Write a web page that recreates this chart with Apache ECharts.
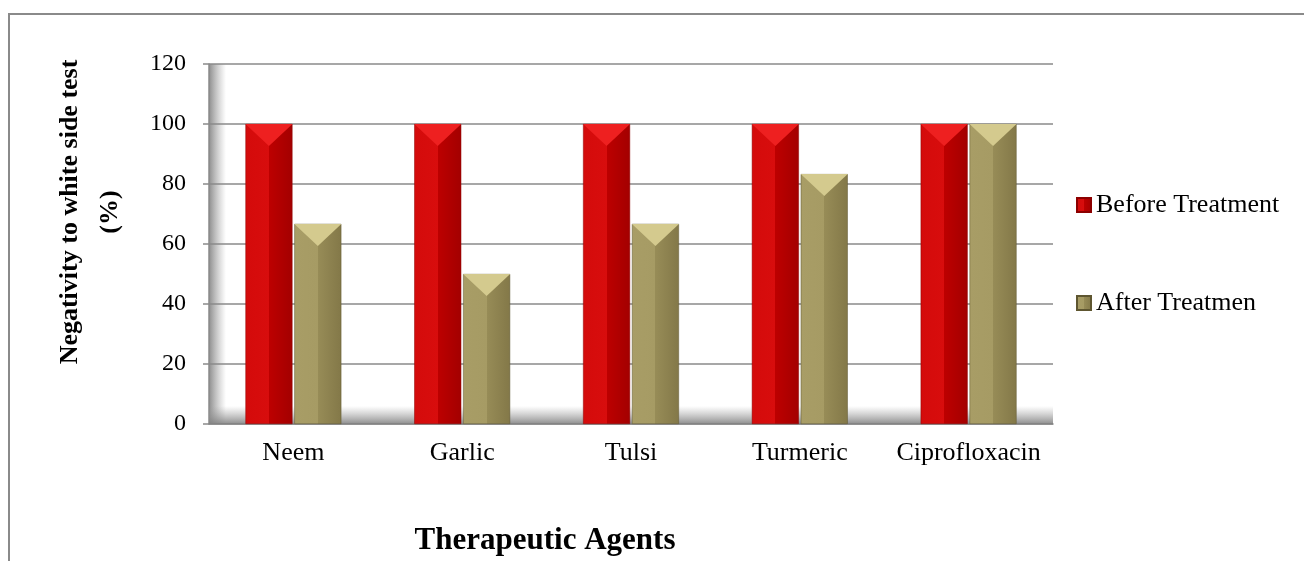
<!DOCTYPE html>
<html>
<head>
<meta charset="utf-8">
<script src="https://cdn.jsdelivr.net/npm/echarts@6/dist/echarts.min.js"></script>
<style>
  html, body { margin: 0; padding: 0; background: #fff; }
  #chart { width: 1304px; height: 561px; }
</style>
</head>
<body>
<div id="chart"></div>
<script>
// 治疗剂
const categories = ['Neem', 'Garlic', 'Tulsi', 'Turmeric', 'Ciprofloxacin'];
// 治疗前 / 治疗后 (%)
const beforeTreatment = [100, 100, 100, 100, 100];
const afterTreatment = [66.7, 50, 66.7, 83.3, 100];
const yTicks = { min: 0, max: 120, interval: 20 };

const serif = '"Liberation Serif", "Times New Roman", serif';
const grid = { left: 209, right: 251, top: 64, bottom: 137 };

// 柱子的立体感用横向渐变模拟
const redFill = new echarts.graphic.LinearGradient(0, 0, 1, 0, [
  { offset: 0, color: '#d40b0b' },
  { offset: 0.5, color: '#d80d0d' },
  { offset: 0.5, color: '#bd0000' },
  { offset: 1, color: '#a30000' }
]);
const oliveFill = new echarts.graphic.LinearGradient(0, 0, 1, 0, [
  { offset: 0, color: '#a89d66' },
  { offset: 0.5, color: '#a69b64' },
  { offset: 0.5, color: '#978c57' },
  { offset: 1, color: '#837848' }
]);

// 柱顶的斜面（V 形高光），用自定义系列按坐标轴换算位置
function bevelSeries(values, seriesIndex, topColor) {
  return {
    type: 'custom',
    silent: true,
    z: 3,
    data: values.map((v, i) => [i, v]),
    renderItem(params, api) {
      const top = api.coord([api.value(0), api.value(1)]);
      const bandW = api.size([1, 0])[0];
      const barW = 47;
      const gap = barW * 0.04;
      const x0 = top[0] - (barW * 2 + gap) / 2 + seriesIndex * (barW + gap);
      const h = 22;
      return {
        type: 'polygon',
        shape: { points: [[x0, top[1]], [x0 + barW, top[1]], [x0 + barW / 2, top[1] + h]] },
        style: { fill: topColor }
      };
    }
  };
}

const chart = echarts.init(document.getElementById('chart'));
chart.setOption({
  backgroundColor: '#fff',
  animation: false,
  grid: grid,
  legend: {
    orient: 'vertical',
    left: 1071,
    top: 187,
    itemWidth: 14,
    itemHeight: 14,
    itemGap: 72,
    icon: 'rect',
    textStyle: { fontFamily: serif, fontSize: 26, color: '#000' },
    data: ['Before Treatment', 'After Treatmen']
  },
  xAxis: {
    type: 'category',
    data: categories,
    axisLine: { lineStyle: { color: '#8a8a8a', width: 1.5 } },
    axisTick: { length: 7, lineStyle: { color: '#8a8a8a', width: 1.5 } },
    axisLabel: { fontFamily: serif, fontSize: 26, color: '#000', margin: 16, interval: 0 }
  },
  yAxis: {
    type: 'value',
    min: yTicks.min,
    max: yTicks.max,
    interval: yTicks.interval,
    axisLine: { show: true, lineStyle: { color: '#8a8a8a', width: 1.5 } },
    axisTick: { show: true, length: 6, lineStyle: { color: '#8a8a8a', width: 1.5 } },
    axisLabel: { fontFamily: serif, fontSize: 24, color: '#000', margin: 23 },
    splitLine: { lineStyle: { color: '#8a8a8a', width: 1.5 } }
  },
  series: [
    {
      name: 'Before Treatment',
      type: 'bar',
      data: beforeTreatment,
      barWidth: 47,
      barGap: '4%',
      itemStyle: { color: redFill, borderColor: '#8c0000', borderWidth: 0.5 },
      // 底部阴影
      markArea: {
        silent: true,
        itemStyle: {
          color: new echarts.graphic.LinearGradient(0, 0, 0, 1, [
            { offset: 0, color: 'rgba(160,160,160,0)' },
            { offset: 1, color: 'rgba(130,130,130,0.9)' }
          ])
        },
        data: [[{ yAxis: 0 }, { yAxis: 6 }]]
      }
    },
    {
      name: 'After Treatmen',
      type: 'bar',
      data: afterTreatment,
      barWidth: 47,
      itemStyle: { color: oliveFill, borderColor: '#5e5630', borderWidth: 0.5 }
    },
    bevelSeries(beforeTreatment, 0, '#ee2020'),
    bevelSeries(afterTreatment, 1, '#d4ca8e')
  ],
  graphic: [
    {
      type: 'rect',
      silent: true,
      shape: { x: 9, y: 14, width: 1400, height: 600 },
      style: { fill: 'none', stroke: '#8a8a8a', lineWidth: 2 }
    },
    {
      // 左侧墙面阴影
      type: 'rect',
      silent: true,
      z: -1,
      shape: { x: grid.left, y: grid.top, width: 17, height: 561 - grid.top - grid.bottom },
      style: {
        fill: new echarts.graphic.LinearGradient(0, 0, 1, 0, [
          { offset: 0, color: 'rgba(130,130,130,0.9)' },
          { offset: 1, color: 'rgba(160,160,160,0)' }
        ])
      }
    },
    {
      type: 'text',
      x: 90,
      y: 212,
      rotation: Math.PI / 2,
      style: {
        text: 'Negativity to white side test\n(%)',
        font: 'bold 26px ' + serif,
        lineHeight: 40,
        align: 'center',
        verticalAlign: 'middle',
        fill: '#000'
      }
    },
    {
      type: 'text',
      x: 545,
      y: 541,
      style: {
        text: 'Therapeutic Agents',
        font: 'bold 31px ' + serif,
        align: 'center',
        verticalAlign: 'middle',
        fill: '#000'
      }
    }
  ]
});
</script>
</body>
</html>
